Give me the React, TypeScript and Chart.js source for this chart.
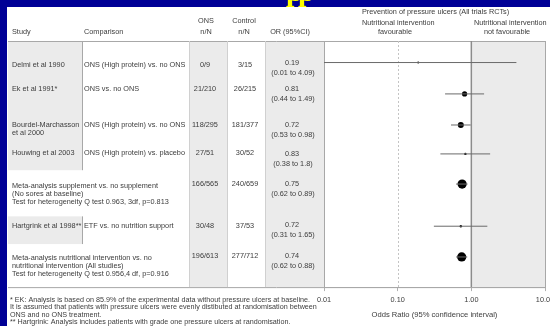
import React, { useEffect, useRef } from 'react';
import { Chart, registerables } from 'chart.js';

Chart.register(...registerables);

// ---------- data ----------
const studies = [
  'Delmi et al 1990',
  'Ek et al 1991*',
  'Bourdel-Marchasson\net al 2000',
  'Houwing et al 2003',
  'Meta-analysis supplement vs. no supplement\n(No sores at baseline)\nTest for heterogeneity Q test 0.963, 3df, p=0.813',
  'Hartgrink et al 1998**',
  'Meta-analysis nutritional intervention vs. no\nnutritional intervention (All studies)\nTest for heterogeneity Q test 0.956,4 df, p=0.916',
];
const comparisons = [
  'ONS (High protein) vs. no ONS',
  'ONS vs. no ONS',
  'ONS (High protein) vs. no ONS',
  'ONS (High protein) vs. placebo',
  '',
  'ETF vs. no nutrition support',
  '',
];
const onsN = ['0/9', '21/210', '118/295', '27/51', '166/565', '30/48', '196/613'];
const controlN = ['3/15', '26/215', '181/377', '30/52', '240/659', '37/53', '277/712'];
const oddsRatio = [0.19, 0.81, 0.72, 0.83, 0.75, 0.72, 0.74];
const ciLow = [0.01, 0.44, 0.53, 0.38, 0.62, 0.31, 0.62];
const ciHigh = [4.09, 1.49, 0.98, 1.8, 0.89, 1.65, 0.88];
const xTickValues = [0.01, 0.1, 1, 10];
const footnotes = [
  '* EK: Analysis is based on 85.9% of the experimental data without pressure ulcers at baseline.',
  'It is assumed that patients with pressure ulcers were evenly distibuted at randomisation between',
  'ONS and no ONS treatment.',
  '** Hartgrink: Analysis includes patients with grade one pressure ulcers at randomisation.',
];

// ---------- layout / style ----------
const dotSlot = [0.7, 1.72, 2.73, 3.67, 4.65, 6.02, 7.02];
const textSlot = [0.78, 1.56, 2.73, 3.65, 4.7, 6.02, 7.05];
const orSlot = [0.72, 1.56, 2.73, 3.67, 4.65, 5.99, 7.0];
const markerRadius = [1, 2.6, 3, 1.2, 4.6, 1.2, 4.6];
const FONT = '"Liberation Sans", Arial, sans-serif';
const FS = 7.3;
const BLUE = '#000096';
const SHADE = '#ebebeb';
const LINE = '#a8a8a8';
const TXT = '#3c3c3c';

const tablePlugin = {
  id: 'forestTable',
  beforeDraw(chart: any) {
    const ctx = chart.ctx as CanvasRenderingContext2D;
    const xs = chart.scales.x;
    const ys = chart.scales.y;
    const ca = chart.chartArea;
    const W = chart.width;
    const H = chart.height;
    ctx.save();
    // background
    ctx.fillStyle = BLUE;
    ctx.fillRect(0, 0, W, H);
    // yellow title fragment (mostly hidden above panel)
    ctx.fillStyle = '#ffff00';
    ctx.font = 'bold 30px "Liberation Serif", serif';
    ctx.textBaseline = 'alphabetic';
    ctx.textAlign = 'left';
    ctx.fillText('p', 286, 0.5);
    ctx.fillText('p', 298, 0.5);
    // panel
    ctx.fillStyle = '#ffffff';
    ctx.fillRect(7, 7, W - 7, H - 7);

    const top = ca.top;
    const bottom = ca.bottom;
    const yOf = (s: number) => ys.getPixelForValue(s);

    // shaded columns
    ctx.fillStyle = SHADE;
    ctx.fillRect(8, top, 74, yOf(4.2) - top);
    ctx.fillRect(8, yOf(5.7), 74, yOf(6.6) - yOf(5.7));
    ctx.fillRect(189, top, 38, bottom - top);
    ctx.fillRect(265, top, ca.left - 265, bottom - top);
    const x1 = xs.getPixelForValue(1);
    const x10 = xs.getPixelForValue(10);
    ctx.fillRect(x1, top, x10 - x1, bottom - top);

    // lines
    ctx.strokeStyle = LINE;
    ctx.lineWidth = 1;
    const line = (ax: number, ay: number, bx: number, by: number) => {
      ctx.beginPath();
      ctx.moveTo(ax, ay);
      ctx.lineTo(bx, by);
      ctx.stroke();
    };
    line(8, top + 0.5, x10, top + 0.5);
    line(8, bottom + 0.5, x10, bottom + 0.5);
    line(82.5, top, 82.5, yOf(4.2));
    line(82.5, yOf(5.7), 82.5, yOf(6.6));
    ctx.strokeStyle = '#d0d0d0';
    line(189.5, top, 189.5, bottom);
    line(227.5, top, 227.5, bottom);
    line(265.5, top, 265.5, bottom);
    ctx.strokeStyle = LINE;
    line(Math.round(ca.left) + 0.5, top, Math.round(ca.left) + 0.5, bottom);
    line(Math.round(x10) + 0.5, top, Math.round(x10) + 0.5, bottom);
    // reference lines
    const x01 = xs.getPixelForValue(0.1);
    ctx.strokeStyle = '#c4c4c4';
    ctx.setLineDash([2, 2]);
    line(Math.round(x01) + 0.5, top, Math.round(x01) + 0.5, bottom);
    ctx.setLineDash([]);
    ctx.strokeStyle = '#8c8c8c';
    ctx.lineWidth = 1.5;
    line(x1, top, x1, bottom);

    // text
    ctx.fillStyle = TXT;
    ctx.textBaseline = 'middle';
    ctx.font = `${FS}px ${FONT}`;
    const text = (s: string, x: number, y: number, align: CanvasTextAlign = 'left') => {
      ctx.textAlign = align;
      ctx.fillText(s, x, y);
    };
    // header
    text('Study', 12, 32);
    text('Comparison', 84, 32);
    text('ONS', 206, 21, 'center');
    text('n/N', 206, 32, 'center');
    text('Control', 244, 21, 'center');
    text('n/N', 244, 32, 'center');
    text('OR (95%CI)', 290, 32, 'center');
    text('Prevention of pressure ulcers (All trials RCTs)', 362, 12);
    text('Nutritional intervention', 362, 23);
    text('favourable', 395, 32, 'center');
    text('Nutritional intervention', 474, 23);
    text('not favourable', 507, 32, 'center');

    // rows
    studies.forEach((s, i) => {
      const ty = yOf(textSlot[i]);
      s.split('\n').forEach((ln, k) => text(ln, 12, ty + k * 8));
      if (comparisons[i]) text(comparisons[i], 84, ty);
      const ny = i === 4 || i === 6 ? yOf(orSlot[i]) : ty;
      text(onsN[i], 205, ny, 'center');
      text(controlN[i], 245, ny, 'center');
      const oy = yOf(orSlot[i]);
      text(String(oddsRatio[i]), 292, oy, 'center');
      text(`(${ciLow[i]} to ${ciHigh[i]})`, 293, oy + 10, 'center');
    });

    // footnotes
    ctx.font = `7.2px ${FONT}`;
    footnotes.forEach((f, k) => text(f, 10, bottom + 12.5 + k * 7.6));
    ctx.restore();
  },
};

export default function App() {
  const ref = useRef<HTMLCanvasElement | null>(null);
  useEffect(() => {
    if (!ref.current) return;
    const ciSets = oddsRatio.map((_, i) => ({
      type: 'scatter' as const,
      showLine: true,
      data: [
        { x: ciLow[i], y: dotSlot[i] },
        { x: ciHigh[i], y: dotSlot[i] },
      ],
      borderColor: '#6a6a6a',
      borderWidth: 1,
      pointRadius: 0,
      pointHoverRadius: 0,
    }));
    const pointSet = {
      type: 'scatter' as const,
      data: oddsRatio.map((v, i) => ({ x: v, y: dotSlot[i] })),
      backgroundColor: '#000000',
      borderColor: '#000000',
      borderWidth: 0,
      pointRadius: markerRadius,
    };
    const chart = new Chart(ref.current, {
      type: 'scatter',
      data: { datasets: [...ciSets, pointSet] as any },
      options: {
        animation: false,
        responsive: false,
        devicePixelRatio: 1,
        events: [],
        layout: { padding: { left: 324, right: 25, top: 41, bottom: 7 } },
        plugins: { legend: { display: false }, tooltip: { enabled: false } },
        scales: {
          x: {
            type: 'logarithmic',
            min: 0.01,
            max: 10,
            afterBuildTicks: (s: any) => {
              s.ticks = xTickValues.map((v) => ({ value: v }));
            },
            ticks: {
              autoSkip: false,
              maxRotation: 0,
              padding: 4,
              color: TXT,
              font: { family: FONT, size: FS },
              callback: (v: any) => Number(v).toFixed(2),
            },
            grid: { drawOnChartArea: false, drawTicks: true, tickLength: 4, color: '#b0b0b0' },
            border: { display: true, color: LINE },
            title: {
              display: true,
              text: 'Odds Ratio (95% confidence interval)',
              color: TXT,
              font: { family: FONT, size: 7.6 },
              padding: { top: 2, bottom: 0 },
            },
          },
          y: { type: 'linear', min: 0, max: 8, reverse: true, display: false },
        },
      },
      plugins: [tablePlugin],
    });
    return () => chart.destroy();
  }, []);
  return (
    <div style={{ position: 'fixed', left: 0, top: 0, width: 550, height: 326, overflow: 'hidden', background: BLUE }}>
      <canvas ref={ref} width={570} height={326} style={{ display: 'block', width: 570, height: 326 }} />
    </div>
  );
}
